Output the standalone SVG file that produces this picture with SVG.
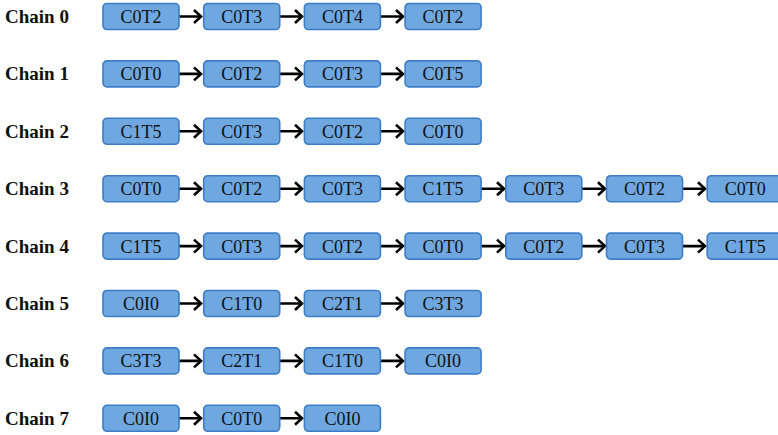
<svg xmlns="http://www.w3.org/2000/svg" width="778" height="435" viewBox="0 0 778 435">
<style>
.box{fill:#6fa8e0;stroke:#3d7dc6;stroke-width:1.6}
.t{font-family:"Liberation Serif","DejaVu Serif",serif;font-size:18px;fill:#111;text-anchor:middle}
.lbl{font-family:"Liberation Serif","DejaVu Serif",serif;font-size:19px;font-weight:bold;fill:#111}
.c{stroke:#000;stroke-width:2.6;fill:none}
.h{stroke:#000;stroke-width:2.6;fill:none;stroke-linejoin:miter}
</style>
<rect width="778" height="435" fill="#fff"/>
<g id="labels">
<text class="lbl" x="5" y="23">Chain 0</text>
<text class="lbl" x="5" y="80.4">Chain 1</text>
<text class="lbl" x="5" y="137.8">Chain 2</text>
<text class="lbl" x="5" y="195.2">Chain 3</text>
<text class="lbl" x="5" y="252.6">Chain 4</text>
<text class="lbl" x="5" y="310">Chain 5</text>
<text class="lbl" x="5" y="367.4">Chain 6</text>
<text class="lbl" x="5" y="424.8">Chain 7</text>
</g>
<g id="connectors">
<path class="c" d="M179,16.5H201M280,16.5H302M381,16.5H403"/>
<path class="h" d="M194,10L201,16.5L194,23M295,10L302,16.5L295,23M396,10L403,16.5L396,23"/>
<path class="c" d="M179,73.9H201M280,73.9H302M381,73.9H403"/>
<path class="h" d="M194,67.4L201,73.9L194,80.4M295,67.4L302,73.9L295,80.4M396,67.4L403,73.9L396,80.4"/>
<path class="c" d="M179,131.3H201M280,131.3H302M381,131.3H403"/>
<path class="h" d="M194,124.8L201,131.3L194,137.8M295,124.8L302,131.3L295,137.8M396,124.8L403,131.3L396,137.8"/>
<path class="c" d="M179,188.7H201M280,188.7H302M381,188.7H403M481,188.7H504M582,188.7H605M683,188.7H705"/>
<path class="h" d="M194,182.2L201,188.7L194,195.2M295,182.2L302,188.7L295,195.2M396,182.2L403,188.7L396,195.2M497,182.2L504,188.7L497,195.2M598,182.2L605,188.7L598,195.2M698,182.2L705,188.7L698,195.2"/>
<path class="c" d="M179,246.1H201M280,246.1H302M381,246.1H403M481,246.1H504M582,246.1H605M683,246.1H705"/>
<path class="h" d="M194,239.6L201,246.1L194,252.6M295,239.6L302,246.1L295,252.6M396,239.6L403,246.1L396,252.6M497,239.6L504,246.1L497,252.6M598,239.6L605,246.1L598,252.6M698,239.6L705,246.1L698,252.6"/>
<path class="c" d="M179,303.5H201M280,303.5H302M381,303.5H403"/>
<path class="h" d="M194,297L201,303.5L194,310M295,297L302,303.5L295,310M396,297L403,303.5L396,310"/>
<path class="c" d="M179,360.9H201M280,360.9H302M381,360.9H403"/>
<path class="h" d="M194,354.4L201,360.9L194,367.4M295,354.4L302,360.9L295,367.4M396,354.4L403,360.9L396,367.4"/>
<path class="c" d="M179,418.3H201M280,418.3H302"/>
<path class="h" d="M194,411.8L201,418.3L194,424.8M295,411.8L302,418.3L295,424.8"/>
</g>
<defs>
<g id="b"><rect class="box" x="0" y="0" width="76" height="26" rx="4"/></g>
</defs>
<g id="n0_0" transform="translate(103,3.5)"><use href="#b"/><text class="t" x="38" y="19.5">C0T2</text></g>
<g id="n0_1" transform="translate(203.7,3.5)"><use href="#b"/><text class="t" x="38" y="19.5">C0T3</text></g>
<g id="n0_2" transform="translate(304.4,3.5)"><use href="#b"/><text class="t" x="38" y="19.5">C0T4</text></g>
<g id="n0_3" transform="translate(405.1,3.5)"><use href="#b"/><text class="t" x="38" y="19.5">C0T2</text></g>
<g id="n1_0" transform="translate(103,60.9)"><use href="#b"/><text class="t" x="38" y="19.5">C0T0</text></g>
<g id="n1_1" transform="translate(203.7,60.9)"><use href="#b"/><text class="t" x="38" y="19.5">C0T2</text></g>
<g id="n1_2" transform="translate(304.4,60.9)"><use href="#b"/><text class="t" x="38" y="19.5">C0T3</text></g>
<g id="n1_3" transform="translate(405.1,60.9)"><use href="#b"/><text class="t" x="38" y="19.5">C0T5</text></g>
<g id="n2_0" transform="translate(103,118.3)"><use href="#b"/><text class="t" x="38" y="19.5">C1T5</text></g>
<g id="n2_1" transform="translate(203.7,118.3)"><use href="#b"/><text class="t" x="38" y="19.5">C0T3</text></g>
<g id="n2_2" transform="translate(304.4,118.3)"><use href="#b"/><text class="t" x="38" y="19.5">C0T2</text></g>
<g id="n2_3" transform="translate(405.1,118.3)"><use href="#b"/><text class="t" x="38" y="19.5">C0T0</text></g>
<g id="n3_0" transform="translate(103,175.7)"><use href="#b"/><text class="t" x="38" y="19.5">C0T0</text></g>
<g id="n3_1" transform="translate(203.7,175.7)"><use href="#b"/><text class="t" x="38" y="19.5">C0T2</text></g>
<g id="n3_2" transform="translate(304.4,175.7)"><use href="#b"/><text class="t" x="38" y="19.5">C0T3</text></g>
<g id="n3_3" transform="translate(405.1,175.7)"><use href="#b"/><text class="t" x="38" y="19.5">C1T5</text></g>
<g id="n3_4" transform="translate(505.8,175.7)"><use href="#b"/><text class="t" x="38" y="19.5">C0T3</text></g>
<g id="n3_5" transform="translate(606.5,175.7)"><use href="#b"/><text class="t" x="38" y="19.5">C0T2</text></g>
<g id="n3_6" transform="translate(707.2,175.7)"><use href="#b"/><text class="t" x="38" y="19.5">C0T0</text></g>
<g id="n4_0" transform="translate(103,233.1)"><use href="#b"/><text class="t" x="38" y="19.5">C1T5</text></g>
<g id="n4_1" transform="translate(203.7,233.1)"><use href="#b"/><text class="t" x="38" y="19.5">C0T3</text></g>
<g id="n4_2" transform="translate(304.4,233.1)"><use href="#b"/><text class="t" x="38" y="19.5">C0T2</text></g>
<g id="n4_3" transform="translate(405.1,233.1)"><use href="#b"/><text class="t" x="38" y="19.5">C0T0</text></g>
<g id="n4_4" transform="translate(505.8,233.1)"><use href="#b"/><text class="t" x="38" y="19.5">C0T2</text></g>
<g id="n4_5" transform="translate(606.5,233.1)"><use href="#b"/><text class="t" x="38" y="19.5">C0T3</text></g>
<g id="n4_6" transform="translate(707.2,233.1)"><use href="#b"/><text class="t" x="38" y="19.5">C1T5</text></g>
<g id="n5_0" transform="translate(103,290.5)"><use href="#b"/><text class="t" x="38" y="19.5">C0I0</text></g>
<g id="n5_1" transform="translate(203.7,290.5)"><use href="#b"/><text class="t" x="38" y="19.5">C1T0</text></g>
<g id="n5_2" transform="translate(304.4,290.5)"><use href="#b"/><text class="t" x="38" y="19.5">C2T1</text></g>
<g id="n5_3" transform="translate(405.1,290.5)"><use href="#b"/><text class="t" x="38" y="19.5">C3T3</text></g>
<g id="n6_0" transform="translate(103,347.9)"><use href="#b"/><text class="t" x="38" y="19.5">C3T3</text></g>
<g id="n6_1" transform="translate(203.7,347.9)"><use href="#b"/><text class="t" x="38" y="19.5">C2T1</text></g>
<g id="n6_2" transform="translate(304.4,347.9)"><use href="#b"/><text class="t" x="38" y="19.5">C1T0</text></g>
<g id="n6_3" transform="translate(405.1,347.9)"><use href="#b"/><text class="t" x="38" y="19.5">C0I0</text></g>
<g id="n7_0" transform="translate(103,405.3)"><use href="#b"/><text class="t" x="38" y="19.5">C0I0</text></g>
<g id="n7_1" transform="translate(203.7,405.3)"><use href="#b"/><text class="t" x="38" y="19.5">C0T0</text></g>
<g id="n7_2" transform="translate(304.4,405.3)"><use href="#b"/><text class="t" x="38" y="19.5">C0I0</text></g>
</svg>
